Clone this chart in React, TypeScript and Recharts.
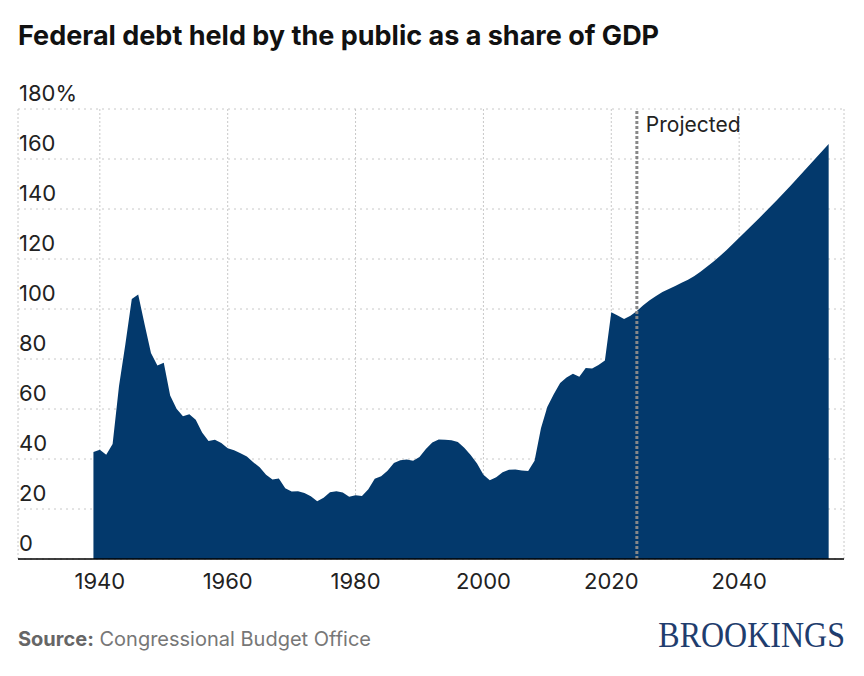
import React from "react";
import {
  AreaChart,
  Area,
  XAxis,
  YAxis,
  CartesianGrid,
  ReferenceLine,
} from "recharts";

// debt held by the public, % of GDP, fiscal years 1939-2024 (actual)
const historyStart = 1939;
const historical = [
  42.8, 43.7, 41.7, 46.0, 69.2, 86.0, 104.0, 105.8, 93.9, 82.4,
  77.4, 78.5, 65.4, 60.1, 57.1, 57.9, 55.7, 50.6, 47.2, 47.7,
  46.4, 44.3, 43.5, 42.3, 41.0, 38.7, 36.7, 33.7, 31.8, 32.2,
  28.3, 27.0, 27.1, 26.4, 25.1, 23.1, 24.5, 26.7, 27.1, 26.6,
  24.9, 25.5, 25.2, 27.9, 32.1, 33.1, 35.3, 38.4, 39.5, 39.8,
  39.3, 40.8, 44.0, 46.6, 47.8, 47.7, 47.5, 46.8, 44.5, 41.6,
  38.2, 33.7, 31.5, 32.7, 34.7, 35.7, 35.8, 35.4, 35.2, 39.3,
  52.3, 60.9, 65.9, 70.4, 72.6, 74.1, 72.9, 76.4, 76.2, 77.6,
  79.4, 98.7, 97.4, 96.0, 97.3, 99.2,
];

// CBO projection 2025-2054
const projectedStart = 2025;
const projected = [
  101.5, 103.5, 105.2, 106.8, 108.0, 109.2, 110.5, 111.7, 113.2, 115.0,
  117.0, 119.0, 121.2, 123.5, 126.0, 128.5, 131.0, 133.5, 136.0, 138.6,
  141.2, 143.8, 146.5, 149.2, 152.0, 154.8, 157.6, 160.4, 163.2, 166.0,
];

const projectionYear = 2024;
const xTicks = [1940, 1960, 1980, 2000, 2020, 2040];
const yTicks = [0, 20, 40, 60, 80, 100, 120, 140, 160, 180];

const data = [
  ...historical.map((v, i) => ({ year: historyStart + i, debt: v })),
  ...projected.map((v, i) => ({ year: projectedStart + i, debt: v })),
];

const FONT = "Inter, 'Noto Sans', sans-serif";
const NAVY = "#03396c";

const YTick = (props: any) => {
  const v = props.payload.value;
  return (
    <text x={19} y={props.y - 8} fill="#222" fontSize={22} fontFamily={FONT}>
      {v === 180 ? "180%" : v}
    </text>
  );
};

const XTick = (props: any) => (
  <text
    x={props.x}
    y={props.y + 22}
    fill="#222"
    fontSize={22}
    fontFamily={FONT}
    textAnchor="middle"
  >
    {props.payload.value}
  </text>
);

const ProjLabel = (props: any) => {
  const vb = props.viewBox || {};
  return (
    <text x={vb.x + 9} y={vb.y + 23} fill="#222" fontSize={21} fontFamily={FONT}>
      Projected
    </text>
  );
};

export default function App() {
  return (
    <div
      style={{
        position: "absolute",
        left: 0,
        top: 0,
        width: 864,
        height: 676,
        background: "#fff",
        fontFamily: FONT,
      }}
    >
      <div
        style={{
          position: "absolute",
          left: 18,
          top: 19,
          fontSize: 27,
          fontWeight: 700,
          color: "#111",
          whiteSpace: "nowrap",
        }}
      >
        Federal debt held by the public as a share of GDP
      </div>

      <div style={{ position: "absolute", left: 0, top: 0 }}>
        <AreaChart
          width={864}
          height={676}
          data={data}
          margin={{ top: 109, right: 20, bottom: 87, left: 17 }}
        >
          <CartesianGrid
            vertical={false}
            stroke="#c8c8c8"
            strokeDasharray="2 4"
          />
          <CartesianGrid
            horizontal={false}
            stroke="#c8c8c8"
            strokeDasharray="2 2"
          />
          <XAxis
            dataKey="year"
            type="number"
            domain={[1927.2, 2056.4]}
            ticks={xTicks}
            height={30}
            axisLine={{ stroke: "#000", strokeWidth: 1.5 }}
            tickLine={false}
            tick={<XTick />}
            allowDataOverflow
          />
          <YAxis
            domain={[0, 180]}
            ticks={yTicks}
            width={1}
            axisLine={false}
            tickLine={false}
            tick={<YTick />}
          />
          <Area
            type="linear"
            dataKey="debt"
            stroke="none"
            fill={NAVY}
            fillOpacity={1}
            isAnimationActive={false}
          />
          <ReferenceLine
            x={projectionYear}
            stroke="#888"
            strokeWidth={3}
            strokeDasharray="3 2"
            label={<ProjLabel />}
          />
        </AreaChart>
      </div>

      <div
        style={{
          position: "absolute",
          left: 18,
          top: 627,
          fontSize: 20,
          color: "#777",
          whiteSpace: "nowrap",
        }}
      >
        <span style={{ fontWeight: 700, color: "#666" }}>Source:</span>{" "}
        Congressional Budget Office
      </div>
      <div
        style={{
          position: "absolute",
          right: 19,
          top: 617,
          fontSize: 32,
          fontFamily: "'Liberation Serif', 'DejaVu Serif', serif",
          color: "#1f3d6e",
          whiteSpace: "nowrap",
          transform: "scaleY(1.12)",
        }}
      >
        BROOKINGS
      </div>
    </div>
  );
}
